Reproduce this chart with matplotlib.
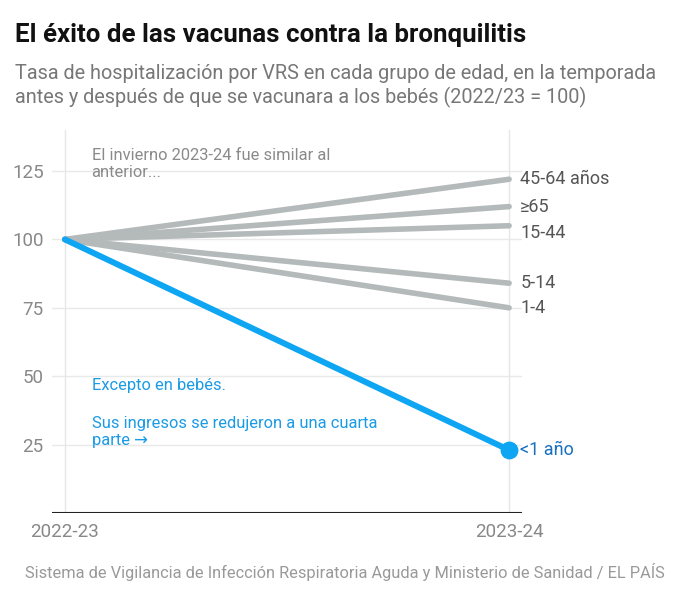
import matplotlib
matplotlib.use("Agg")
import matplotlib.pyplot as plt

plt.rcParams['font.family'] = ['Roboto', 'DejaVu Sans']

periods = ["2022-23", "2023-24"]
groups = ["45-64 años", "≥65", "15-44", "5-14", "1-4"]
start_vals = [100, 100, 100, 100, 100]
end_vals = [122, 112, 105, 84, 75]
baby_label = "<1 año"
baby_vals = [100, 23]
yticks = [25, 50, 75, 100, 125]

W, H = 680, 603
fig = plt.figure(figsize=(W/100, H/100), dpi=100)
ax = fig.add_axes([52/W, 1-513/H, (522-52)/W, (513-130)/H])

grey_line = "#b4b9b9"
blue = "#0ea5f2"
nudge = {"15-44": -2.5}
for g, s, e in zip(groups, start_vals, end_vals):
    ax.plot([0, 1], [s, e], color=grey_line, lw=4, solid_capstyle='round', zorder=3)
    ax.text(1.025, e + nudge.get(g, 0), g, color="#555555", fontsize=13, va='center', ha='left')

ax.plot([0, 1], baby_vals, color=blue, lw=4.3, solid_capstyle='round', zorder=4)
ax.scatter([1], [baby_vals[1]], s=140, color=blue, zorder=5)
ax.text(1.025, baby_vals[1], baby_label, color="#1a70c0", fontsize=13, va='center', ha='left')

ax.set_xlim(-0.029, 1.029)
ax.set_ylim(0, 140)
ax.set_yticks(yticks)
ax.set_yticklabels([str(v) for v in yticks])
ax.set_xticks([0, 1])
ax.set_xticklabels(periods)
for y in yticks:
    ax.axhline(y, color="#e9e9e9", lw=1, zorder=1)
for x in [0, 1]:
    ax.axvline(x, color="#e6e6e6", lw=1, zorder=1)
ax.axhline(0, color="#222222", lw=1.5, zorder=2)
for sp in ax.spines.values():
    sp.set_visible(False)
ax.tick_params(length=0, labelsize=13.5, labelcolor="#888888")
ax.tick_params(axis='y', pad=6)
ax.tick_params(axis='x', pad=7)

ax.text(0.06, 133.5, "El invierno 2023-24 fue similar al\nanterior...", color="#8a8a8a",
        fontsize=11.9, va='top', ha='left', linespacing=1.2)
ax.text(0.06, 49.5, "Excepto en bebés.", color="#1a9be6", fontsize=11.9, va='top', ha='left')
ax.text(0.06, 35.5, "Sus ingresos se redujeron a una cuarta\nparte →", color="#1a9be6",
        fontsize=11.9, va='top', ha='left', linespacing=1.2)

fig.text(15/W, 1-35/H, "El éxito de las vacunas contra la bronquilitis", fontsize=18.6,
         fontweight='bold', color="#111111", va='center', ha='left')
fig.text(15/W, 1-86/H, "Tasa de hospitalización por VRS en cada grupo de edad, en la temporada\nantes y después de que se vacunara a los bebés (2022/23 = 100)",
         fontsize=14.3, color="#777777", va='center', ha='left', linespacing=1.25)
fig.text(25/W, 1-572/H, "Sistema de Vigilancia de Infección Respiratoria Aguda y Ministerio de Sanidad / EL PAÍS",
         fontsize=11.8, color="#999999", va='center', ha='left')

fig.savefig("out.png", dpi=100, facecolor="white")
